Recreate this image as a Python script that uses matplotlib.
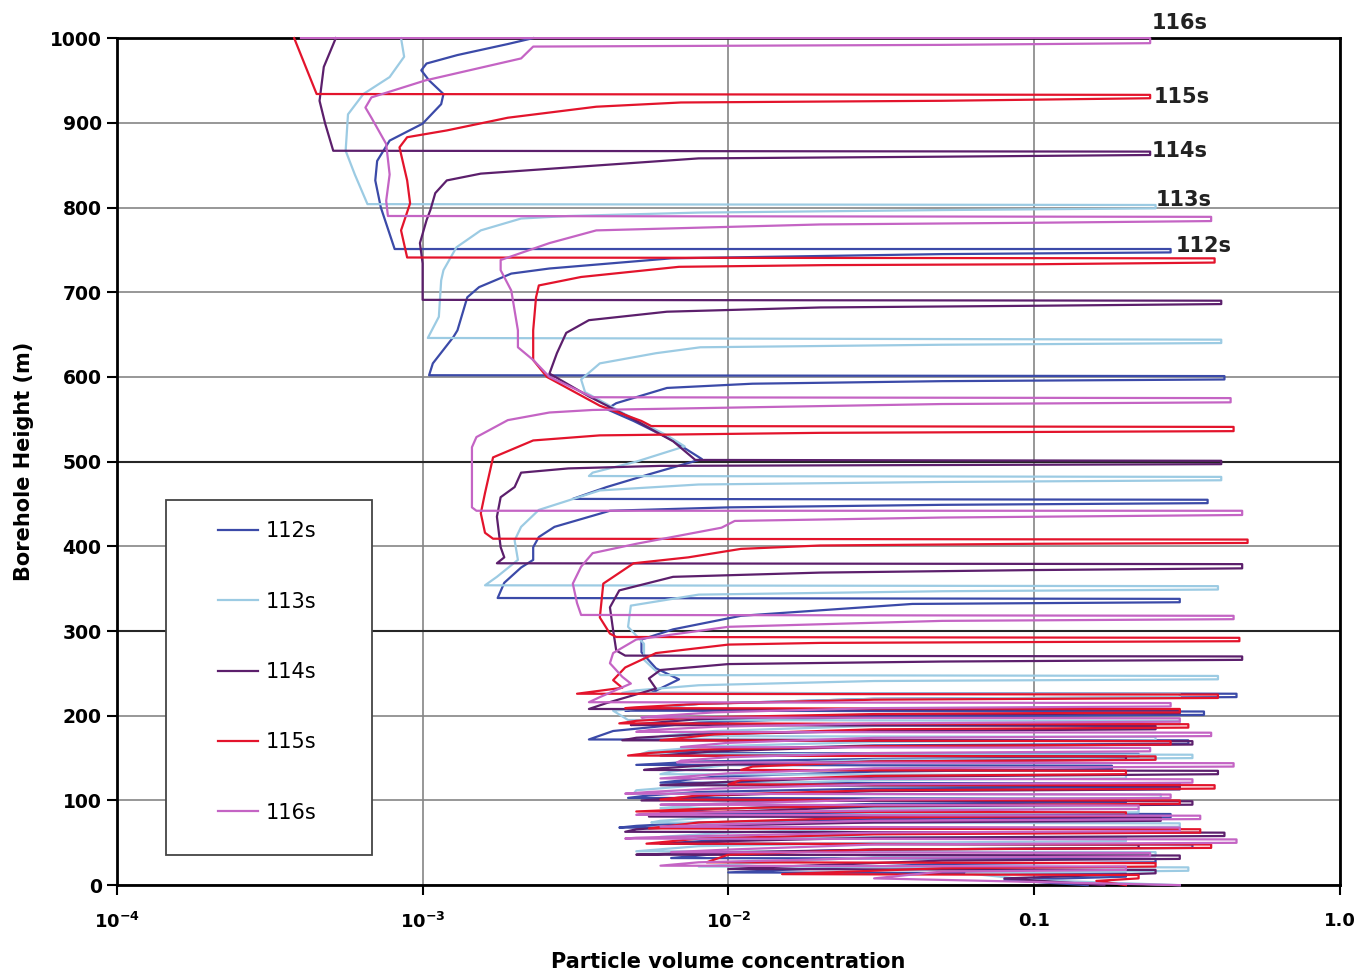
import matplotlib.pyplot as plt
from matplotlib.patches import Rectangle
from matplotlib.ticker import NullLocator
import numpy as np

labels = ['112s', '113s', '114s', '115s', '116s']
colors = ['#3b4aa8', '#9ccbe3', '#5c1f6c', '#e3142c', '#c464c4']

# (concentration, height) pairs, top to bottom
s112 = [(2.3e-3, 1000), (1.9e-3, 993), (1.3e-3, 980), (1.03e-3, 970), (9.9e-4, 962), (1.05e-3, 950),
        (1.17e-3, 934), (1.15e-3, 922), (1.0e-3, 899), (7.8e-4, 879), (7.1e-4, 855), (7.0e-4, 832),
        (7.3e-4, 800), (8.1e-4, 751),
        (0.28, 751), (0.28, 747), (0.05, 745), (6.5e-3, 740), (2.6e-3, 728), (1.95e-3, 722), (1.53e-3, 706),
        (1.4e-3, 694), (1.3e-3, 655), (1.26e-3, 647), (1.08e-3, 616), (1.05e-3, 602),
        (0.42, 601), (0.42, 597), (0.05, 595), (1.2e-2, 592), (6.3e-3, 587), (4.3e-3, 569), (4.0e-3, 562),
        (4.9e-3, 548), (6.5e-3, 526), (8.2e-3, 503), (5.5e-3, 485), (4.0e-3, 470), (3.1e-3, 456),
        (0.37, 455), (0.37, 451), (0.05, 449), (1.0e-2, 446), (4.1e-3, 442), (2.7e-3, 423), (2.4e-3, 411),
        (2.3e-3, 399), (2.3e-3, 384), (2.1e-3, 375), (1.85e-3, 357), (1.76e-3, 339),
        (0.3, 338), (0.3, 334), (0.04, 332), (1.1e-2, 318), (6.6e-3, 302), (5.2e-3, 290), (5.2e-3, 275),
        (5.8e-3, 256), (6.9e-3, 243), (5.6e-3, 227),
        (0.46, 226), (0.46, 222), (0.03, 220), (8e-3, 214), (5e-3, 208), (4.6e-3, 206),
        (0.36, 205), (0.36, 201), (0.03, 199), (8e-3, 192), (4.2e-3, 182), (3.5e-3, 172),
        (0.32, 171), (0.32, 167), (0.03, 165), (9e-3, 160), (6e-3, 156),
        (0.22, 155), (0.22, 151), (0.03, 149), (8e-3, 146), (5.0e-3, 142),
        (0.18, 141), (0.18, 137), (0.03, 134), (9e-3, 128), (6e-3, 121),
        (0.3, 120), (0.3, 116), (0.03, 114), (8e-3, 110), (5.5e-3, 106), (4.7e-3, 103),
        (0.2, 102), (0.2, 98), (0.03, 96), (9e-3, 90), (6e-3, 85),
        (0.28, 84), (0.28, 80), (0.03, 78), (8e-3, 74), (5e-3, 70), (4.4e-3, 68),
        (0.22, 67), (0.22, 63), (0.03, 61), (1e-2, 54), (6e-3, 49),
        (0.33, 48), (0.33, 44), (0.03, 42), (1e-2, 38), (6.5e-3, 32),
        (0.25, 31), (0.25, 27), (0.05, 25), (1.5e-2, 18), (1e-2, 15),
        (0.2, 14), (0.2, 10), (0.08, 6), (0.15, 0)]

s113 = [(8.5e-4, 1000), (8.7e-4, 978), (7.8e-4, 954), (6.4e-4, 934), (5.7e-4, 910), (5.6e-4, 867),
        (6.0e-4, 839), (6.6e-4, 804),
        (0.25, 803), (0.25, 799), (0.05, 797), (8e-3, 794), (3e-3, 790), (2.1e-3, 787), (1.55e-3, 773),
        (1.29e-3, 753), (1.17e-3, 726), (1.15e-3, 714), (1.13e-3, 671), (1.04e-3, 646),
        (0.41, 644), (0.41, 640), (0.05, 638), (8.1e-3, 635), (5.8e-3, 628), (3.8e-3, 616), (3.3e-3, 597),
        (3.4e-3, 582), (4.6e-3, 556), (6.3e-3, 531), (7.2e-3, 518), (5.0e-3, 500), (3.6e-3, 487), (3.5e-3, 483),
        (0.41, 482), (0.41, 478), (0.05, 476), (8e-3, 473), (3.8e-3, 466), (2.4e-3, 443), (2.1e-3, 423),
        (2.0e-3, 407), (2.05e-3, 384), (1.75e-3, 364), (1.6e-3, 354),
        (0.4, 353), (0.4, 349), (0.05, 347), (8e-3, 343), (4.8e-3, 330), (4.7e-3, 305), (5.3e-3, 285),
        (5.3e-3, 266), (6e-3, 248),
        (0.4, 247), (0.4, 243), (0.03, 241), (8e-3, 236), (5e-3, 230), (4.5e-3, 227),
        (0.3, 226), (0.3, 222), (0.03, 220), (8e-3, 214), (4.2e-3, 206), (4.7e-3, 195),
        (0.3, 194), (0.3, 190), (0.03, 188), (9e-3, 182), (6e-3, 176),
        (0.25, 175), (0.25, 171), (0.03, 169), (9e-3, 164), (5.5e-3, 158), (5.2e-3, 155),
        (0.33, 154), (0.33, 150), (0.03, 148), (1e-2, 142), (6.5e-3, 134), (6e-3, 131),
        (0.2, 130), (0.2, 126), (0.03, 124), (8e-3, 118), (5e-3, 112), (4.9e-3, 108),
        (0.26, 107), (0.26, 103), (0.03, 101), (9e-3, 96), (6e-3, 91),
        (0.22, 90), (0.22, 86), (0.03, 84), (9e-3, 80), (6e-3, 76), (5.6e-3, 74),
        (0.3, 73), (0.3, 69), (0.03, 67), (1e-2, 62), (6e-3, 57),
        (0.2, 56), (0.2, 52), (0.03, 50), (8e-3, 46), (5e-3, 40),
        (0.25, 39), (0.25, 35), (0.03, 33), (1.2e-2, 26), (8e-3, 22),
        (0.32, 21), (0.32, 17), (0.06, 14), (0.1, 6), (0.3, 0)]

s114 = [(5.2e-4, 1000), (4.75e-4, 966), (4.6e-4, 926), (4.8e-4, 899), (5.1e-4, 867),
        (0.24, 866), (0.24, 862), (0.05, 860), (8e-3, 858), (3.2e-3, 848), (1.55e-3, 840), (1.2e-3, 832),
        (1.1e-3, 817), (1.06e-3, 797), (1.03e-3, 785), (9.8e-4, 758), (1.0e-3, 734), (1.0e-3, 691),
        (0.41, 690), (0.41, 686), (0.1, 684), (0.02, 682), (6.3e-3, 677), (3.5e-3, 667), (2.95e-3, 652),
        (2.75e-3, 628), (2.6e-3, 604), (3.5e-3, 577), (4.9e-3, 550), (6.6e-3, 524), (7.8e-3, 502),
        (0.41, 501), (0.41, 497), (0.05, 496), (6e-3, 495), (3e-3, 492), (2.1e-3, 487), (2.0e-3, 470),
        (1.8e-3, 458), (1.75e-3, 435), (1.8e-3, 399), (1.85e-3, 387), (1.75e-3, 380),
        (0.48, 379), (0.48, 374), (0.1, 372), (0.02, 369), (6.6e-3, 364), (4.4e-3, 348), (4.1e-3, 328),
        (4.2e-3, 301), (4.3e-3, 277), (4.6e-3, 271),
        (0.48, 270), (0.48, 266), (0.05, 264), (1e-2, 261), (6e-3, 254), (5.5e-3, 244), (5.8e-3, 232),
        (4e-3, 215), (3.5e-3, 208),
        (0.3, 207), (0.3, 203), (0.03, 201), (8e-3, 196), (5e-3, 190), (4.8e-3, 189),
        (0.25, 188), (0.25, 184), (0.03, 182), (8e-3, 178), (5e-3, 174), (4.5e-3, 171),
        (0.33, 170), (0.33, 166), (0.03, 164), (9e-3, 158), (6e-3, 153),
        (0.2, 152), (0.2, 148), (0.03, 146), (9e-3, 142), (6e-3, 138), (5.3e-3, 136),
        (0.4, 135), (0.4, 131), (0.03, 128), (1e-2, 122), (6e-3, 118),
        (0.3, 117), (0.3, 113), (0.03, 111), (9e-3, 106), (5.2e-3, 100),
        (0.33, 99), (0.33, 95), (0.03, 93), (9e-3, 86), (5.5e-3, 81),
        (0.26, 80), (0.26, 76), (0.03, 74), (8e-3, 70), (5e-3, 66), (4.6e-3, 63),
        (0.42, 62), (0.42, 58), (0.03, 56), (1e-2, 52), (6e-3, 49),
        (0.22, 48), (0.22, 44), (0.03, 42), (8e-3, 38), (5e-3, 36),
        (0.3, 35), (0.3, 31), (0.05, 29), (1.5e-2, 22), (1e-2, 19),
        (0.25, 18), (0.25, 14), (0.08, 8), (0.17, 0)]

s115 = [(3.8e-4, 1000), (4.5e-4, 934),
        (0.24, 933), (0.24, 929), (0.05, 926), (7e-3, 924), (3.7e-3, 919), (1.9e-3, 906), (1.2e-3, 891),
        (8.9e-4, 883), (8.4e-4, 871), (8.9e-4, 832), (9.1e-4, 805), (8.5e-4, 773), (8.9e-4, 741),
        (0.39, 740), (0.39, 735), (0.1, 733), (0.021, 732), (6.9e-3, 730), (3.3e-3, 718), (2.4e-3, 708),
        (2.35e-3, 694), (2.3e-3, 655), (2.3e-3, 620), (2.55e-3, 600), (3.8e-3, 566), (5.2e-3, 548), (5.6e-3, 542),
        (0.45, 541), (0.45, 536), (0.1, 535), (0.02, 534), (3.8e-3, 531), (2.3e-3, 525), (1.7e-3, 505),
        (1.6e-3, 463), (1.55e-3, 439), (1.6e-3, 416), (1.7e-3, 409),
        (0.5, 408), (0.5, 404), (0.1, 403), (0.02, 401), (1.1e-2, 397), (7.4e-3, 387), (4.9e-3, 380),
        (3.9e-3, 356), (3.8e-3, 316), (4.1e-3, 297), (4.3e-3, 293),
        (0.47, 292), (0.47, 288), (0.1, 287), (0.02, 286), (1e-2, 284), (5.8e-3, 274), (4.6e-3, 257),
        (4.2e-3, 242), (4.5e-3, 233), (3.2e-3, 226),
        (0.4, 225), (0.4, 221), (0.03, 219), (8e-3, 214), (5e-3, 210), (4.6e-3, 209),
        (0.3, 208), (0.3, 204), (0.03, 202), (8e-3, 198), (5e-3, 194), (4.4e-3, 191),
        (0.32, 190), (0.32, 186), (0.03, 184), (9e-3, 178), (6e-3, 171),
        (0.28, 170), (0.28, 166), (0.03, 164), (8e-3, 160), (5.5e-3, 156), (4.7e-3, 153),
        (0.25, 152), (0.25, 148), (0.03, 146), (1.2e-2, 140), (1.1e-2, 136),
        (0.2, 135), (0.2, 131), (0.03, 129), (1.1e-2, 124), (1e-2, 119),
        (0.39, 118), (0.39, 114), (0.03, 112), (8e-3, 106), (6e-3, 101),
        (0.3, 100), (0.3, 96), (0.03, 94), (8e-3, 90), (5e-3, 87),
        (0.2, 86), (0.2, 82), (0.03, 80), (8e-3, 74), (5.5e-3, 67),
        (0.35, 66), (0.35, 62), (0.03, 60), (8e-3, 55), (5.4e-3, 49),
        (0.38, 48), (0.38, 44), (0.03, 42), (1e-2, 36), (8.5e-3, 27),
        (0.25, 26), (0.25, 22), (0.05, 20), (1.8e-2, 14), (1.5e-2, 13),
        (0.22, 12), (0.22, 8), (0.16, 5), (0.2, 0)]

s116 = [(4e-4, 1000), (0.24, 1000), (0.24, 994), (0.05, 992), (2.3e-3, 990), (2.1e-3, 976), (1.02e-3, 950),
        (6.8e-4, 930), (6.5e-4, 918), (6.8e-4, 906), (7.6e-4, 875), (7.8e-4, 839), (7.6e-4, 808), (7.7e-4, 790),
        (0.38, 789), (0.38, 784), (0.1, 782), (0.02, 780), (3.7e-3, 773), (2.6e-3, 758), (1.8e-3, 738),
        (1.8e-3, 726), (1.95e-3, 702), (2.05e-3, 655), (2.05e-3, 635), (2.3e-3, 620), (2.6e-3, 600), (3.6e-3, 576),
        (0.44, 575), (0.44, 570), (0.05, 568), (3.6e-3, 561), (2.6e-3, 558), (1.9e-3, 549), (1.5e-3, 529),
        (1.45e-3, 517), (1.45e-3, 478), (1.45e-3, 446), (1.5e-3, 442),
        (0.48, 442), (0.48, 437), (0.05, 434), (1.05e-2, 430), (9.5e-3, 422), (5e-3, 403), (3.6e-3, 392),
        (3.3e-3, 376), (3.1e-3, 356), (3.2e-3, 333), (3.3e-3, 319),
        (0.45, 318), (0.45, 314), (0.05, 312), (1e-2, 305), (5e-3, 290), (4.2e-3, 274), (4.1e-3, 262),
        (4.5e-3, 246), (4.8e-3, 238), (3.8e-3, 222), (3.5e-3, 216),
        (0.28, 215), (0.28, 211), (0.03, 209), (9e-3, 204), (5.5e-3, 199), (5.2e-3, 198),
        (0.3, 197), (0.3, 193), (0.03, 191), (9e-3, 187), (5.5e-3, 183), (5e-3, 181),
        (0.38, 180), (0.38, 176), (0.03, 174), (1e-2, 168), (7e-3, 163),
        (0.24, 162), (0.24, 158), (0.03, 156), (1e-2, 151), (7e-3, 147), (6.8e-3, 145),
        (0.45, 144), (0.45, 140), (0.03, 138), (1e-2, 132), (6e-3, 126),
        (0.33, 125), (0.33, 121), (0.03, 119), (9e-3, 114), (5.5e-3, 110), (4.6e-3, 108),
        (0.28, 107), (0.28, 103), (0.03, 101), (9e-3, 96), (6e-3, 95),
        (0.22, 94), (0.22, 90), (0.03, 88), (9e-3, 86), (5.2e-3, 84), (5e-3, 83),
        (0.35, 82), (0.35, 78), (0.03, 76), (1e-2, 72), (6e-3, 69),
        (0.3, 68), (0.3, 64), (0.03, 62), (8e-3, 58), (5e-3, 56), (4.6e-3, 55),
        (0.46, 54), (0.46, 50), (0.03, 48), (1e-2, 42), (6.5e-3, 39),
        (0.24, 38), (0.24, 34), (0.03, 32), (8e-3, 27), (6e-3, 23),
        (0.2, 22), (0.2, 18), (0.05, 16), (0.03, 8), (0.17, 2), (0.3, 0)]

series = [s112, s113, s114, s115, s116]

# labels at the top spike of each profile
tag_x = [0.29, 0.25, 0.243, 0.246, 0.243]
tag_y = [755, 809, 867, 930, 1018]

xticks = [1e-4, 1e-3, 1e-2, 0.1, 1.0]
xticklabels = [r'$\mathbf{10^{-4}}$', r'$\mathbf{10^{-3}}$', r'$\mathbf{10^{-2}}$', '0.1', '1.0']
yticks = list(range(0, 1001, 100))

fig = plt.figure(figsize=(13.6, 9.77), dpi=100)
ax = fig.add_axes([0.086, 0.094, 0.899, 0.867])
ax.set_xscale('log')
ax.set_xlim(1e-4, 1.0)
ax.set_ylim(0, 1000)

for pts, lab, col in zip(series, labels, colors):
    a = np.array(pts)
    ax.plot(a[:, 0], a[:, 1], color=col, lw=1.6, label=lab, zorder=3, clip_on=False)

ax.set_xticks(xticks)
ax.set_xticklabels(xticklabels, fontsize=13, fontweight='bold')
ax.xaxis.set_minor_locator(NullLocator())
ax.set_yticks(yticks)
ax.set_yticklabels([str(v) for v in yticks], fontsize=13.5, fontweight='bold')
ax.grid(True, color='#858585', lw=1.2)
ax.set_axisbelow(True)
for h in (300, 500):
    ax.axhline(h, color='#262626', lw=1.5, zorder=1)

for s in ax.spines.values():
    s.set_linewidth(2)
    s.set_color('black')
ax.tick_params(axis='y', direction='out', length=7, width=1.5, pad=4)
ax.tick_params(axis='x', direction='out', length=7, width=1.5, pad=12)

ax.set_ylabel('Borehole Height (m)', fontsize=15, fontweight='bold')
ax.yaxis.set_label_coords(-0.068, 0.5)
ax.set_xlabel('Particle volume concentration', fontsize=15, fontweight='bold')
ax.xaxis.set_label_coords(0.5, -0.079)

for tx, ty, lab in zip(tag_x, tag_y, labels):
    ax.text(tx, ty, lab, fontsize=15, fontweight='bold', color='#222222',
            ha='left', va='center', clip_on=False, zorder=6)

box = Rectangle((0.0401, 0.0354), 0.1685, 0.4191, transform=ax.transAxes,
                facecolor='white', edgecolor='#444444', lw=1.3, zorder=4)
ax.add_patch(box)
leg = ax.legend(loc='upper left', bbox_to_anchor=(0.0826, 0.4298), frameon=False, fontsize=15,
                labelspacing=2.42, handlelength=1.9, handletextpad=0.4, borderpad=0, borderaxespad=0)
leg.set_zorder(5)

fig.savefig('out.png', dpi=100)
